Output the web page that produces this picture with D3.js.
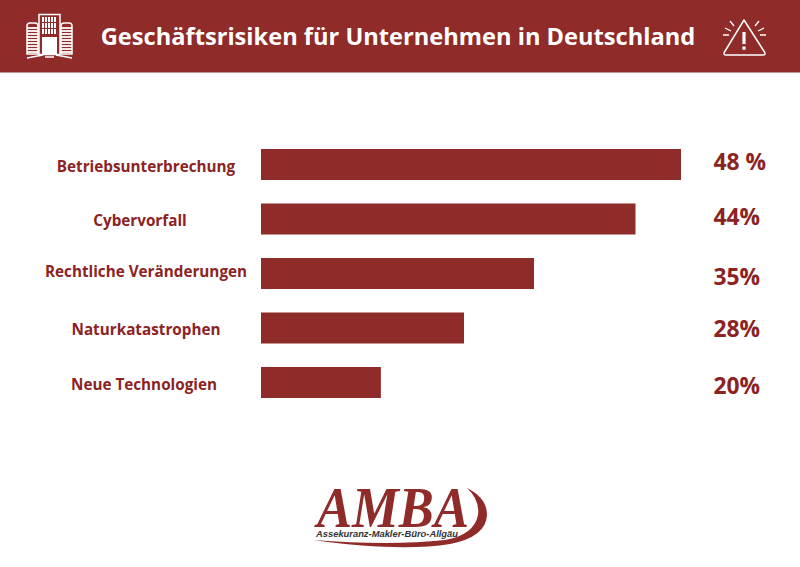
<!DOCTYPE html>
<html>
<head>
<meta charset="utf-8">
<script src="https://cdn.jsdelivr.net/npm/d3@7"></script>
<style>
html, body { margin: 0; padding: 0; background: #fff; }
svg { display: block; }
text { font-family: "Open Sans", sans-serif; font-weight: 700; }
</style>
</head>
<body>
<div id="chart"></div>
<script>
const chartTitle = "Geschäftsrisiken für Unternehmen in Deutschland";
const categories = ["Betriebsunterbrechung", "Cybervorfall", "Rechtliche Veränderungen", "Naturkatastrophen", "Neue Technologien"];
// bar lengths as drawn in the picture, they are not proportional to the printed labels
const barValues = [48, 42.8, 31.2, 23.2, 13.7];
const valueLabels = ["48 %", "44%", "35%", "28%", "20%"];

const width = 800;
const height = 567;
const red = "#8f2b29";

// the labels in the original sit a little off the bar centres
const catOffsets = [{x: 146, y: 2}, {x: 140, y: 2}, {x: 146, y: -2}, {x: 146, y: 2.5}, {x: 144, y: 2.5}];
const valueOffsets = [-3, -2, 3, 1, 3.5];

const svg = d3.select("#chart").append("svg").attr("width", width).attr("height", height);

const x = d3.scaleLinear().domain([0, 48]).range([261, 681]);
const y = d3.scaleBand().domain(categories).range([149, 398]).paddingInner(0.431).paddingOuter(0);

//Header
svg.append("rect").attr("width", width).attr("height", 72.5).attr("fill", red);
svg.append("text")
    .attr("x", 398).attr("y", 44.5)
    .attr("text-anchor", "middle")
    .attr("font-size", 23.65)
    .attr("fill", "#fff")
    .text(chartTitle);

drawBuilding(svg.append("g"));
drawWarning(svg.append("g"));

//Bars
svg.selectAll("rect.bar").data(categories).join("rect")
    .attr("class", "bar")
    .attr("x", x(0))
    .attr("y", d => y(d))
    .attr("width", (d, i) => x(barValues[i]) - x(0))
    .attr("height", y.bandwidth())
    .attr("fill", red);

svg.selectAll("text.cat").data(categories).join("text")
    .attr("class", "cat")
    .attr("x", (d, i) => catOffsets[i].x)
    .attr("y", (d, i) => y(d) + y.bandwidth() / 2 + catOffsets[i].y + 5)
    .attr("text-anchor", "middle")
    .attr("font-size", 15.25)
    .attr("fill", "#8b2323")
    .text(d => d);

svg.selectAll("text.val").data(valueLabels).join("text")
    .attr("class", "val")
    .attr("x", 713.5)
    .attr("y", (d, i) => y(categories[i]) + y.bandwidth() / 2 + valueOffsets[i] + 8)
    .attr("font-size", 22.8)
    .attr("fill", "#8b2323")
    .text(d => d);

drawLogo(svg.append("g"));

function drawBuilding(g) {
    const w = "#fff";
    g.append("rect").attr("x", 39).attr("y", 14.5).attr("width", 21).attr("height", 40)
        .attr("fill", "none").attr("stroke", w).attr("stroke-width", 1.5);
    g.append("rect").attr("x", 42).attr("y", 37).attr("width", 15).attr("height", 17).attr("fill", w);
    [17, 23, 29].forEach(wy => {
        [42, 45, 48, 51, 54].forEach(wx => {
            g.append("rect").attr("x", wx).attr("y", wy).attr("width", 2).attr("height", 5).attr("fill", w);
        });
    });
    [[27, 38], [61, 72]].forEach(([l, r]) => {
        g.append("path")
            .attr("d", `M${l} 54V26Q${l} 23 ${l + 3} 23H${r - 3}Q${r} 23 ${r} 26V54Z`)
            .attr("fill", "none").attr("stroke", w).attr("stroke-width", 1.5);
        d3.range(28, 54, 3).forEach(ly => {
            g.append("line").attr("x1", l).attr("x2", r).attr("y1", ly).attr("y2", ly)
                .attr("stroke", w).attr("stroke-width", 1.8);
        });
    });
    g.append("path").attr("d", "M27 58L43 55M72 58L56 55M45 57H54")
        .attr("fill", "none").attr("stroke", w).attr("stroke-width", 1.3);
}

function drawWarning(g) {
    const w = "#fff";
    g.append("path")
        .attr("d", "M744 20L724.5 52Q723 55 726 55H763Q766 55 764.5 52Z")
        .attr("fill", "none").attr("stroke", w).attr("stroke-width", 1.5).attr("stroke-linejoin", "round");
    g.append("path").attr("d", "M744 32V44").attr("stroke", w).attr("stroke-width", 3.2);
    g.append("rect").attr("x", 742.4).attr("y", 46.5).attr("width", 3.2).attr("height", 3.2).attr("fill", w);
    g.append("path")
        .attr("d", "M723 35H729M725 28L731 31M730 21L734 26M766 35H760M764 28L758 31M759 21L755 26")
        .attr("fill", "none").attr("stroke", w).attr("stroke-width", 1.3);
}

function drawLogo(g) {
    g.append("path")
        .attr("d", "M313 540Q400 552 450 544Q486 537 487 515Q487 498 467 488Q480 500 478 515Q474 535 445 540Q390 546 313 540Z")
        .attr("fill", red);
    g.append("text")
        .attr("x", 393).attr("y", 527)
        .attr("text-anchor", "middle")
        .attr("textLength", 152).attr("lengthAdjust", "spacingAndGlyphs")
        .attr("font-size", 58)
        .attr("font-style", "italic")
        .attr("fill", red)
        .style("font-family", '"Liberation Serif", serif')
        .text("AMBA");
    g.append("text")
        .attr("x", 316).attr("y", 537)
        .attr("textLength", 142).attr("lengthAdjust", "spacingAndGlyphs")
        .attr("font-size", 8.5)
        .attr("font-style", "italic")
        .attr("fill", "#333")
        .style("font-family", '"Liberation Sans", sans-serif')
        .text("Assekuranz-Makler-Büro-Allgäu");
}
</script>
</body>
</html>
